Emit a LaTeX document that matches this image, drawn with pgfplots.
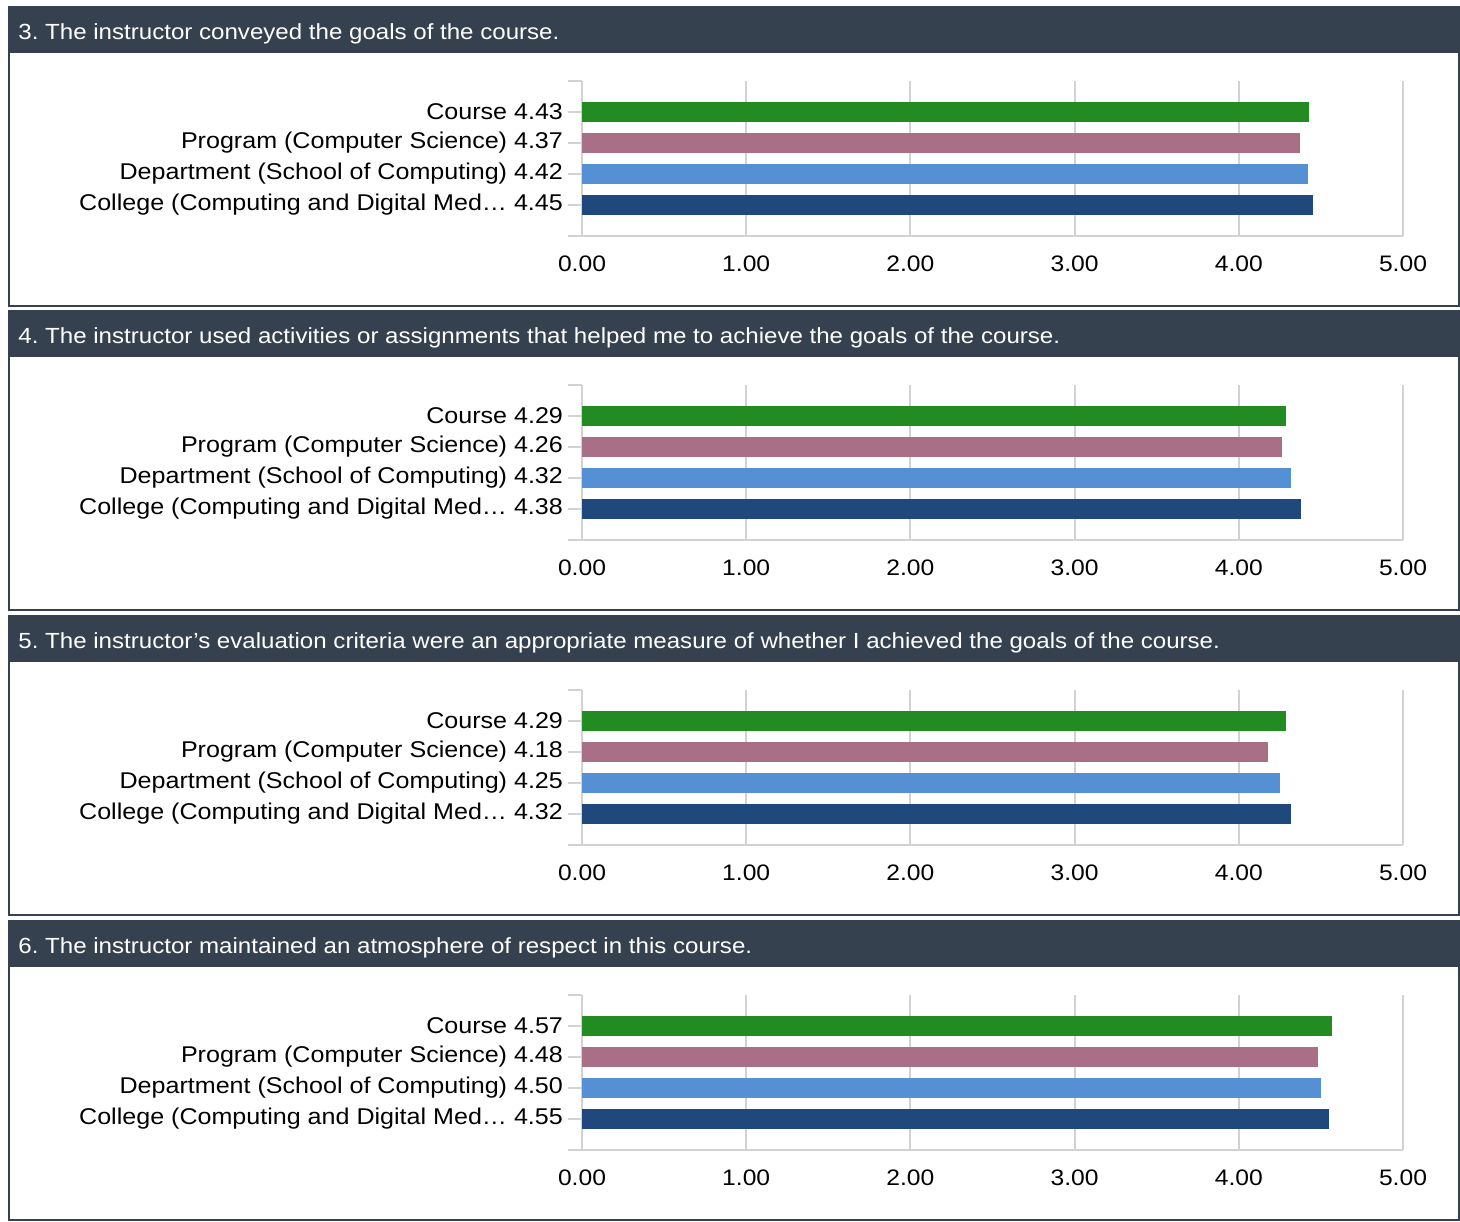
\documentclass[border=0pt]{standalone}
\usepackage{pgfplots}
\pgfplotsset{compat=1.18}
\usepackage{fontspec}
\setmainfont{Liberation Sans}[FakeStretch=1.1]

\definecolor{hdr}{HTML}{36414F}
\definecolor{cgreen}{HTML}{228B22}
\definecolor{cmauve}{HTML}{A86F87}
\definecolor{clight}{HTML}{5590D5}
\definecolor{cdark}{HTML}{1F487C}
\definecolor{gridc}{HTML}{D2D2D2}

% one question panel: plot area 821x155 px, 1px = 0.5pt
\pgfplotsset{panel/.style={
  anchor=north west, scale only axis,
  width=410.5pt, height=77.5pt,
  xmin=0, xmax=5, ymin=-1, ymax=4, y dir=reverse,
  xbar, bar width=10pt, bar shift=0pt,
  axis lines*=left,
  axis line style={gridc, line width=1pt},
  xtick={0,1,2,3,4,5},
  xticklabels={0.00,1.00,2.00,3.00,4.00,5.00},
  xmajorgrids, grid style={gridc, line width=1pt},
  xtick style={draw=none},
  ytick={-1,0,1,2,3,4},
  ytick style={gridc, line width=1pt},
  tick align=outside, major tick length=7pt,
  yticklabel style={font=\fontsize{11.4}{13}\selectfont, text=black, xshift=1pt},
  xticklabel style={font=\fontsize{11.2}{13}\selectfont, text=black, yshift=0.5pt},
}}

\newcommand{\panelframe}[1]{%
  \draw[hdr, line width=1pt] (4.5pt,-#1pt) rectangle (729.5pt,{-(#1+149.5)*1pt});
  \fill[hdr] (4.5pt,-#1pt) rectangle (729.5pt,{-(#1+23)*1pt});
}

\begin{document}
\frenchspacing
\begin{tikzpicture}
\fill[white] (0,0) rectangle (730pt,-610pt);

% panel frames and headers (top edges in pt: 3.5, 155.5, 308, 460.5)
\panelframe{3.5}
\panelframe{155.5}
\panelframe{308}
\panelframe{460.5}

\begin{scope}[every node/.style={text=white, anchor=base west, inner sep=0pt, font=\fontsize{10.95}{13}\selectfont}]
\node at (9pt,-19.7pt) {3. The instructor conveyed the goals of the course.};
\node at (9pt,-171.7pt) {4. The instructor used activities or assignments that helped me to achieve the goals of the course.};
\node at (9pt,-324.2pt) {5. The instructor's evaluation criteria were an appropriate measure of whether I achieved the goals of the course.};
\node at (9pt,-476.7pt) {6. The instructor maintained an atmosphere of respect in this course.};
\end{scope}

% question 3
\begin{axis}[panel, at={(291pt,-40.5pt)},
  yticklabels={{},{Course 4.43},{Program (Computer Science) 4.37},{Department (School of Computing) 4.42},{College (Computing and Digital Med… 4.45},{}}]
\addplot[fill=cgreen, draw=none] coordinates {(4.43,0)};
\addplot[fill=cmauve, draw=none] coordinates {(4.37,1)};
\addplot[fill=clight, draw=none] coordinates {(4.42,2)};
\addplot[fill=cdark, draw=none] coordinates {(4.45,3)};
\end{axis}

% question 4
\begin{axis}[panel, at={(291pt,-192.5pt)},
  yticklabels={{},{Course 4.29},{Program (Computer Science) 4.26},{Department (School of Computing) 4.32},{College (Computing and Digital Med… 4.38},{}}]
\addplot[fill=cgreen, draw=none] coordinates {(4.29,0)};
\addplot[fill=cmauve, draw=none] coordinates {(4.26,1)};
\addplot[fill=clight, draw=none] coordinates {(4.32,2)};
\addplot[fill=cdark, draw=none] coordinates {(4.38,3)};
\end{axis}

% question 5
\begin{axis}[panel, at={(291pt,-345pt)},
  yticklabels={{},{Course 4.29},{Program (Computer Science) 4.18},{Department (School of Computing) 4.25},{College (Computing and Digital Med… 4.32},{}}]
\addplot[fill=cgreen, draw=none] coordinates {(4.29,0)};
\addplot[fill=cmauve, draw=none] coordinates {(4.18,1)};
\addplot[fill=clight, draw=none] coordinates {(4.25,2)};
\addplot[fill=cdark, draw=none] coordinates {(4.32,3)};
\end{axis}

% question 6
\begin{axis}[panel, at={(291pt,-497.5pt)},
  yticklabels={{},{Course 4.57},{Program (Computer Science) 4.48},{Department (School of Computing) 4.50},{College (Computing and Digital Med… 4.55},{}}]
\addplot[fill=cgreen, draw=none] coordinates {(4.57,0)};
\addplot[fill=cmauve, draw=none] coordinates {(4.48,1)};
\addplot[fill=clight, draw=none] coordinates {(4.50,2)};
\addplot[fill=cdark, draw=none] coordinates {(4.55,3)};
\end{axis}
\end{tikzpicture}
\end{document}
